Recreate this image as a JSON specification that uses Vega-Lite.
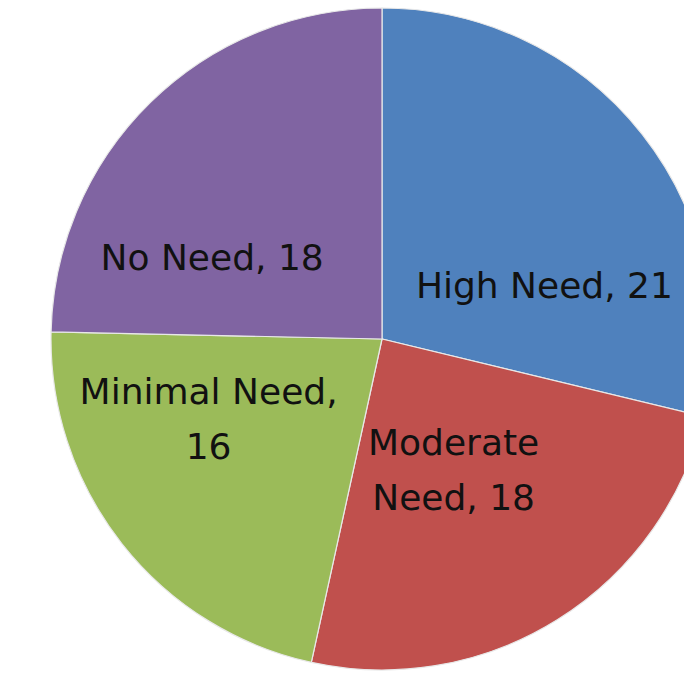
{
  "$schema": "https://vega.github.io/schema/vega-lite/v6.json",
  "width": 764,
  "height": 678,
  "autosize": {"type": "none"},
  "padding": 0,
  "background": "#ffffff",
  "view": {"stroke": null},
  "data": {
    "values": [
      {"need": "High Need", "value": 21, "label": ["High Need, 21"]},
      {"need": "Moderate Need", "value": 18, "label": ["Moderate", "Need, 18"]},
      {"need": "Minimal Need", "value": 16, "label": ["Minimal Need,", "16"]},
      {"need": "No Need", "value": 18, "label": ["No Need, 18"]}
    ]
  },
  "transform": [
    {"window": [{"op": "sum", "field": "value", "as": "cum"}, {"op": "row_number", "as": "idx"}]},
    {"calculate": "datum.cum - datum.value / 2", "as": "mid"}
  ],
  "encoding": {
    "theta": {"field": "value", "type": "quantitative", "stack": true, "scale": {"domain": [0, 73]}},
    "order": {"field": "idx", "type": "quantitative"}
  },
  "layer": [
    {
      "mark": {"type": "arc", "outerRadius": 331, "stroke": "#e8e8e8", "strokeWidth": 1.2},
      "encoding": {
        "color": {
          "field": "need", "type": "nominal", "legend": null,
          "scale": {"domain": ["High Need", "Moderate Need", "Minimal Need", "No Need"], "range": ["#4F81BD", "#C0504D", "#9BBB59", "#8064A2"]}
        }
      }
    },
    {
      "transform": [{"filter": "datum.need === 'High Need'"}],
      "mark": {"type": "text", "radius": 180, "dx": 21, "dy": 59, "font": "DejaVu Sans", "fontSize": 36, "color": "#111111", "align": "center", "baseline": "middle", "lineHeight": 55},
      "encoding": {"theta": {"field": "mid", "type": "quantitative", "stack": null}, "text": {"field": "label"}}
    },
    {
      "transform": [{"filter": "datum.need === 'Moderate Need'"}],
      "mark": {"type": "text", "radius": 150, "dx": -8, "dy": -22, "font": "DejaVu Sans", "fontSize": 36, "color": "#111111", "align": "center", "baseline": "middle", "lineHeight": 55},
      "encoding": {"theta": {"field": "mid", "type": "quantitative", "stack": null}, "text": {"field": "label"}}
    },
    {
      "transform": [{"filter": "datum.need === 'Minimal Need'"}],
      "mark": {"type": "text", "radius": 180, "dx": -32, "dy": -57, "font": "DejaVu Sans", "fontSize": 36, "color": "#111111", "align": "center", "baseline": "middle", "lineHeight": 55},
      "encoding": {"theta": {"field": "mid", "type": "quantitative", "stack": null}, "text": {"field": "label"}}
    },
    {
      "transform": [{"filter": "datum.need === 'No Need'"}],
      "mark": {"type": "text", "radius": 180, "dx": -44, "dy": 49, "font": "DejaVu Sans", "fontSize": 36, "color": "#111111", "align": "center", "baseline": "middle", "lineHeight": 55},
      "encoding": {"theta": {"field": "mid", "type": "quantitative", "stack": null}, "text": {"field": "label"}}
    }
  ]
}
